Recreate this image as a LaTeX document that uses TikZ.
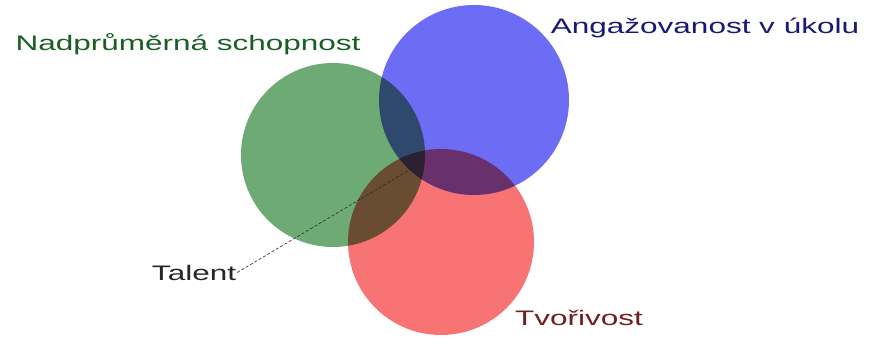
\documentclass[tikz,border=0pt]{standalone}
\usepackage{fontspec}
\setmainfont{Liberation Sans}
\newfontfamily\widesans[FakeStretch=1.5]{Liberation Sans}
\definecolor{zelena}{RGB}{110,170,115}
\definecolor{modra}{RGB}{108,108,245}
\definecolor{cervena}{RGB}{248,115,115}
\definecolor{zelenytext}{RGB}{25,95,35}
\definecolor{modrytext}{RGB}{25,25,115}
\definecolor{cervenytext}{RGB}{115,30,30}
\begin{document}
\begin{tikzpicture}[x=1pt,y=-1pt,font=\widesans\fontsize{21}{24}\selectfont,
	popis/.style={anchor=base,inner sep=1pt}]
	\useasboundingbox (0,0) rectangle (877,343);
	\begin{scope}[blend group=multiply]
		\fill[zelena] (333,155) circle (92pt);
		\fill[modra] (474,100) circle (95pt);
		\fill[cervena] (441,242) circle (93pt);
	\end{scope}
	\node[popis,text=zelenytext] (schopnost) at (188,50) {Nadprůměrná schopnost};
	\node[popis,text=modrytext] (angazovanost) at (705,33) {Angažovanost v úkolu};
	\node[popis,text=cervenytext] (tvorivost) at (579,325) {Tvořivost};
	\node[popis,text=black!85] (talent) at (194,280) {Talent};
	\coordinate (jadro) at (421,163);
	\draw[semithick,densely dashed,black!85] (talent.east) -- (jadro);
\end{tikzpicture}
\end{document}
